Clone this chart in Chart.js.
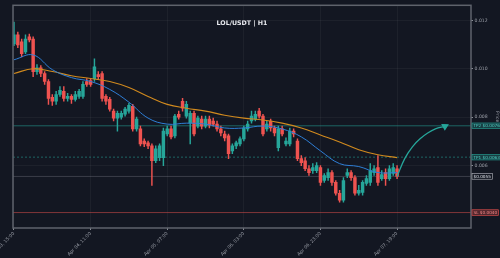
<!DOCTYPE html>
<html>
<head>
<meta charset="utf-8">
<script src="https://cdn.jsdelivr.net/npm/chart.js@4"></script>
<style>
  html, body { margin: 0; padding: 0; background: #131722; }
  #wrap { width: 500px; height: 258px; }
</style>
</head>
<body>
<div id="wrap"><canvas id="grafico"></canvas></div>
<script>
// Velas H1
const opens = [
  0.01104, 0.01141, 0.01112, 0.01071, 0.01133, 0.01124, 0.00989, 0.01005, 0.00981, 0.00948,
  0.00882, 0.00866, 0.00894, 0.00907, 0.00878, 0.00886, 0.00874, 0.00886, 0.00886, 0.00948,
  0.00952, 0.00960, 0.00977, 0.00981, 0.00886, 0.00874, 0.00825, 0.00796, 0.00800, 0.00812,
  0.00825, 0.00845, 0.00751, 0.00751, 0.00701, 0.00693, 0.00681, 0.00619, 0.00632, 0.00632,
  0.00730, 0.00751, 0.00722, 0.00812, 0.00866, 0.00804, 0.00775, 0.00816, 0.00763, 0.00792,
  0.00763, 0.00792, 0.00784, 0.00771, 0.00751, 0.00730, 0.00722, 0.00660, 0.00681, 0.00689,
  0.00710, 0.00751, 0.00784, 0.00792, 0.00825, 0.00804, 0.00751, 0.00784, 0.00755, 0.00673,
  0.00751, 0.00689, 0.00689, 0.00742, 0.00701, 0.00628, 0.00619, 0.00586, 0.00578, 0.00578,
  0.00591, 0.00537, 0.00549, 0.00570, 0.00529, 0.00484, 0.00455, 0.00558, 0.00570, 0.00549,
  0.00484, 0.00488, 0.00525, 0.00529, 0.00570, 0.00591, 0.00545, 0.00570, 0.00545, 0.00566,
  0.00586
];
const closes = [
  0.01141, 0.01100, 0.01063, 0.01124, 0.01120, 0.00989, 0.01005, 0.00981, 0.00948, 0.00878,
  0.00866, 0.00894, 0.00911, 0.00878, 0.00886, 0.00874, 0.00894, 0.00907, 0.00936, 0.00936,
  0.00936, 0.01009, 0.00968, 0.00878, 0.00866, 0.00833, 0.00796, 0.00816, 0.00816, 0.00833,
  0.00849, 0.00751, 0.00792, 0.00689, 0.00689, 0.00681, 0.00619, 0.00669, 0.00681, 0.00742,
  0.00751, 0.00718, 0.00804, 0.00800, 0.00837, 0.00853, 0.00816, 0.00730, 0.00796, 0.00763,
  0.00792, 0.00767, 0.00771, 0.00751, 0.00734, 0.00714, 0.00648, 0.00681, 0.00693, 0.00710,
  0.00755, 0.00771, 0.00804, 0.00812, 0.00804, 0.00730, 0.00771, 0.00755, 0.00734, 0.00751,
  0.00730, 0.00701, 0.00742, 0.00730, 0.00628, 0.00611, 0.00586, 0.00570, 0.00591, 0.00599,
  0.00529, 0.00558, 0.00570, 0.00529, 0.00484, 0.00455, 0.00537, 0.00570, 0.00549, 0.00484,
  0.00496, 0.00529, 0.00545, 0.00578, 0.00586, 0.00529, 0.00562, 0.00545, 0.00586, 0.00591,
  0.00554
];
const highs = [
  0.01194, 0.01153, 0.01124, 0.01141, 0.01145, 0.01133, 0.01018, 0.01014, 0.00989, 0.00956,
  0.00894, 0.00907, 0.00927, 0.00927, 0.00899, 0.00894, 0.00907, 0.00915, 0.00948, 0.00960,
  0.00960, 0.01042, 0.00989, 0.00989, 0.00894, 0.00882, 0.00833, 0.00825, 0.00825, 0.00841,
  0.00857, 0.00853, 0.00800, 0.00763, 0.00710, 0.00701, 0.00689, 0.00681, 0.00689, 0.00755,
  0.00763, 0.00763, 0.00812, 0.00825, 0.00878, 0.00866, 0.00825, 0.00825, 0.00804, 0.00804,
  0.00804, 0.00804, 0.00796, 0.00784, 0.00763, 0.00742, 0.00730, 0.00689, 0.00701, 0.00718,
  0.00763, 0.00784, 0.00825, 0.00825, 0.00837, 0.00812, 0.00784, 0.00792, 0.00763, 0.00763,
  0.00763, 0.00714, 0.00755, 0.00751, 0.00710, 0.00640, 0.00632, 0.00599, 0.00607, 0.00611,
  0.00599, 0.00566, 0.00586, 0.00578, 0.00537, 0.00496, 0.00549, 0.00586, 0.00578, 0.00558,
  0.00517, 0.00537, 0.00558, 0.00607, 0.00599, 0.00640, 0.00578, 0.00586, 0.00599, 0.00607,
  0.00599
];
const lows = [
  0.01096, 0.01088, 0.01050, 0.01063, 0.01112, 0.00968, 0.00977, 0.00968, 0.00936, 0.00853,
  0.00849, 0.00853, 0.00886, 0.00866, 0.00866, 0.00857, 0.00866, 0.00878, 0.00878, 0.00927,
  0.00927, 0.00948, 0.00956, 0.00866, 0.00853, 0.00825, 0.00784, 0.00742, 0.00792, 0.00804,
  0.00816, 0.00742, 0.00742, 0.00681, 0.00677, 0.00669, 0.00517, 0.00611, 0.00619, 0.00599,
  0.00722, 0.00710, 0.00714, 0.00792, 0.00825, 0.00796, 0.00689, 0.00722, 0.00755, 0.00751,
  0.00755, 0.00755, 0.00763, 0.00742, 0.00722, 0.00701, 0.00628, 0.00648, 0.00669, 0.00681,
  0.00701, 0.00742, 0.00775, 0.00784, 0.00796, 0.00722, 0.00742, 0.00742, 0.00722, 0.00660,
  0.00722, 0.00681, 0.00681, 0.00718, 0.00619, 0.00599, 0.00578, 0.00558, 0.00566, 0.00570,
  0.00517, 0.00529, 0.00537, 0.00517, 0.00476, 0.00447, 0.00447, 0.00549, 0.00537, 0.00476,
  0.00476, 0.00476, 0.00517, 0.00517, 0.00558, 0.00517, 0.00537, 0.00517, 0.00537, 0.00558,
  0.00545
];

// Eixo X: posições (índice da vela) e rótulos
const tickIdx = [0, 20, 40, 60, 80, 100];
const tickLabels = ['Apr 03, 15:00', 'Apr 04, 11:00', 'Apr 05, 07:00', 'Apr 06, 03:00', 'Apr 06, 23:00', 'Apr 07, 19:00'];
const yTicks = [0.006, 0.008, 0.010, 0.012];

// Médias móveis (lidas a cada 5 velas)
const maIdx = [0, 5, 10, 15, 20, 25, 30, 35, 40, 45, 50, 55, 60, 65, 70, 75, 80, 85, 90, 95, 100];
const maRapida = [0.01038, 0.01058, 0.00997, 0.00964, 0.00948, 0.00915, 0.00862, 0.00796, 0.00771, 0.00775, 0.00771,
  0.00755, 0.00755, 0.00763, 0.00751, 0.00718, 0.00660, 0.00607, 0.00595, 0.00570, 0.00570];
const maLenta = [0.00981, 0.01001, 0.00989, 0.00972, 0.00960, 0.00948, 0.00923, 0.00886, 0.00853, 0.00837, 0.00825,
  0.00808, 0.00796, 0.00788, 0.00775, 0.00755, 0.00726, 0.00697, 0.00665, 0.00644, 0.00632];

// Projeção (seta) até o alvo
const projIdx = [100, 102, 104, 106, 108, 110, 112.5];
const projVals = [0.00554, 0.00628, 0.00677, 0.00710, 0.00734, 0.00751, 0.00762];

// Níveis
const nivelNomes = ['TP2', 'TP1', '', 'SL'];
const nivelValores = [0.00764, 0.00634, 0.00554, 0.00404];

const X_MIN = -0.26, X_MAX = 119.3;

const CORES = {
  fundo: '#131722',
  alta: '#26a69a',
  baixa: '#ef5350',
  rapida: '#2f7fd6',
  lenta: '#d18a1e',
  grid: 'rgba(255, 255, 255, 0.045)',
  texto: '#9a9ea7',
  borda: '#5f636c',
};
const nivelEstilo = [
  { linha: 'rgba(38, 166, 154, 0.55)', dash: [], fundo: 'rgba(38, 166, 154, 0.28)', borda: '#26a69a', texto: '#4fd1c5' },
  { linha: 'rgba(38, 166, 154, 0.55)', dash: [2, 2], fundo: 'rgba(38, 166, 154, 0.28)', borda: '#26a69a', texto: '#4fd1c5' },
  { linha: 'rgba(200, 200, 210, 0.22)', dash: [], fundo: '#131722', borda: '#b9bcc4', texto: '#e0e3ea' },
  { linha: 'rgba(239, 83, 80, 0.5)', dash: [], fundo: 'rgba(239, 83, 80, 0.28)', borda: '#ef5350', texto: '#ff8a87' },
];

const corVela = closes.map((c, i) => (c >= opens[i] ? CORES.alta : CORES.baixa));

const datasets = [];

// Médias
datasets.push({
  type: 'line', data: maIdx.map((x, i) => ({ x, y: maRapida[i] })),
  borderColor: CORES.rapida, borderWidth: 1, pointRadius: 0, tension: 0.4, order: 1,
});
datasets.push({
  type: 'line', data: maIdx.map((x, i) => ({ x, y: maLenta[i] })),
  borderColor: CORES.lenta, borderWidth: 1.1, pointRadius: 0, tension: 0.4, order: 1,
});

// Projeção com ponta de seta
datasets.push({
  type: 'line', data: projIdx.map((x, i) => ({ x, y: projVals[i] })),
  borderColor: CORES.alta, borderWidth: 1.3, tension: 0.4,
  pointRadius: (ctx) => (ctx.dataIndex === projIdx.length - 1 ? 3.2 : 0),
  pointStyle: 'triangle', rotation: 62,
  pointBackgroundColor: CORES.alta, pointBorderColor: CORES.alta, order: 0,
});

// Linhas de nível
nivelValores.forEach((v, k) => {
  datasets.push({
    type: 'line', data: [{ x: X_MIN, y: v }, { x: X_MAX, y: v }],
    borderColor: nivelEstilo[k].linha, borderDash: nivelEstilo[k].dash, borderWidth: 1,
    pointRadius: 0, order: 5,
  });
});

// Pavios e corpos
datasets.push({
  type: 'bar', data: closes.map((c, i) => ({ x: i, y: [lows[i], highs[i]] })),
  backgroundColor: corVela, barThickness: 0.8, grouped: false, order: 3,
});
datasets.push({
  type: 'bar', data: closes.map((c, i) => ({ x: i, y: [opens[i], c] })),
  backgroundColor: corVela, barThickness: 2.8, grouped: false, minBarLength: 0.6, order: 2,
});

// Moldura, título e etiquetas de preço
const moldura = {
  id: 'moldura',
  afterDraw(chart) {
    const { ctx, chartArea: a, scales: { y } } = chart;
    ctx.save();
    ctx.strokeStyle = CORES.borda;
    ctx.lineWidth = 1.5;
    ctx.strokeRect(a.left, a.top, a.right - a.left, a.bottom - a.top);

    ctx.fillStyle = '#e8eaef';
    ctx.font = 'bold 6.3px "DejaVu Sans"';
    ctx.textAlign = 'center';
    ctx.textBaseline = 'middle';
    ctx.fillText('LOL/USDT | H1', (a.left + a.right) / 2, 23.5);

    ctx.font = '4.2px "DejaVu Sans"';
    ctx.textAlign = 'left';
    nivelValores.forEach((v, k) => {
      const st = nivelEstilo[k];
      const txt = (nivelNomes[k] ? nivelNomes[k] + ' ' : '') + '$' + v.toFixed(4);
      const py = y.getPixelForValue(v);
      const w = ctx.measureText(txt).width + 3;
      const x0 = a.right + 1;
      ctx.fillStyle = CORES.fundo;
      ctx.fillRect(x0, py - 2.8, w, 5.6);
      ctx.fillStyle = st.fundo;
      ctx.fillRect(x0, py - 2.8, w, 5.6);
      ctx.strokeStyle = st.borda;
      ctx.lineWidth = 0.6;
      ctx.strokeRect(x0, py - 2.8, w, 5.6);
      ctx.fillStyle = st.texto;
      ctx.fillText(txt, x0 + 1.5, py + 0.3);
    });
    ctx.restore();
  },
};

new Chart(document.getElementById('grafico'), {
  type: 'bar',
  data: { datasets },
  plugins: [moldura],
  options: {
    responsive: true,
    maintainAspectRatio: false,
    animation: false,
    layout: { padding: { left: 13, top: 3, right: 0, bottom: 0 } },
    plugins: { legend: { display: false }, tooltip: { enabled: false } },
    scales: {
      x: {
        type: 'linear', min: X_MIN, max: X_MAX, offset: false,
        border: { display: false },
        grid: { color: CORES.grid, tickColor: '#8a8e97', tickLength: 2, offset: false },
        afterBuildTicks: (axis) => { axis.ticks = tickIdx.map((v) => ({ value: v })); },
        afterFit: (scale) => { scale.height = 30; scale.paddingLeft = 0; scale.paddingRight = 0; },
        ticks: {
          autoSkip: false, minRotation: 45, maxRotation: 45, padding: 1,
          color: CORES.texto, font: { family: 'DejaVu Sans', size: 4.6 },
          callback: (v, i) => tickLabels[i],
        },
      },
      y: {
        position: 'right', min: 0.0034, max: 0.01264,
        border: { display: false },
        grid: { color: CORES.grid, tickColor: '#8a8e97', tickLength: 2 },
        afterBuildTicks: (axis) => { axis.ticks = yTicks.map((v) => ({ value: v })); },
        afterFit: (scale) => { scale.width = 29; scale.paddingTop = 0; scale.paddingBottom = 0; },
        ticks: {
          padding: 1.5, color: CORES.texto, font: { family: 'DejaVu Sans', size: 4.6 },
          callback: (v) => v.toFixed(3),
        },
        title: {
          display: true, text: 'Price', color: CORES.texto,
          font: { family: 'DejaVu Sans', size: 4.6 }, padding: { top: 0, bottom: 6 },
        },
      },
    },
  },
});
</script>
</body>
</html>
